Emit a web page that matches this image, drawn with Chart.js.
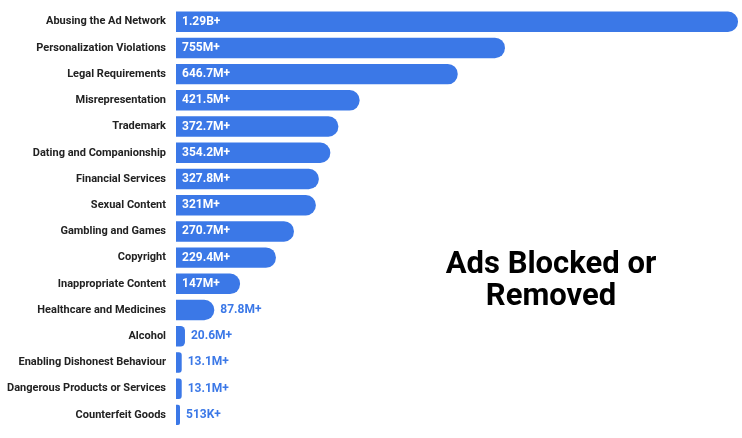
<!DOCTYPE html>
<html><head><meta charset="utf-8">
<script src="https://cdn.jsdelivr.net/npm/chart.js@4"></script>
<style>
body{margin:0;background:#fff;}
#wrap{position:relative;width:742px;height:438px;}
#title{position:absolute;left:401px;top:247px;width:300px;text-align:center;font:bold 31px Roboto,sans-serif;line-height:32px;color:#000;}
</style></head><body>
<div id="wrap"><canvas id="c" width="742" height="438"></canvas>
<div id="title">Ads Blocked or<br>Removed</div></div>
<script>
const categorias = ['Abusing the Ad Network','Personalization Violations','Legal Requirements','Misrepresentation','Trademark','Dating and Companionship','Financial Services','Sexual Content','Gambling and Games','Copyright','Inappropriate Content','Healthcare and Medicines','Alcohol','Enabling Dishonest Behaviour','Dangerous Products or Services','Counterfeit Goods'];
const valores = [1290, 755, 646.7, 421.5, 372.7, 354.2, 327.8, 321, 270.7, 229.4, 147, 87.8, 20.6, 13.1, 13.1, 0.513];
const etiquetas = ['1.29B+','755M+','646.7M+','421.5M+','372.7M+','354.2M+','327.8M+','321M+','270.7M+','229.4M+','147M+','87.8M+','20.6M+','13.1M+','13.1M+','513K+'];

const azul = '#3b78e7';

const valoresPlugin = {
  id: 'valores',
  afterDatasetsDraw(chart) {
    const ctx = chart.ctx;
    const meta = chart.getDatasetMeta(0);
    ctx.save();
    ctx.font = 'bold 12px Roboto, sans-serif';
    ctx.textBaseline = 'middle';
    meta.data.forEach((bar, i) => {
      const w = bar.x - bar.base;
      if (w > 60) {
        ctx.fillStyle = '#fff';
        ctx.fillText(etiquetas[i], bar.base + 6, bar.y);
      } else {
        ctx.fillStyle = azul;
        ctx.fillText(etiquetas[i], bar.x + 6, bar.y);
      }
    });
    ctx.restore();
  }
};

new Chart(document.getElementById('c'), {
  type: 'bar',
  data: {
    labels: categorias,
    datasets: [{
      data: valores,
      backgroundColor: azul,
      borderRadius: {topRight: 10, bottomRight: 10},
      borderSkipped: false,
      barPercentage: 0.78,
      categoryPercentage: 1,
      minBarLength: 4
    }]
  },
  options: {
    indexAxis: 'y',
    responsive: false,
    animation: false,
    layout: {padding: {top: -5, bottom: 10, right: 4, left: 0}},
    plugins: {legend: {display: false}, tooltip: {enabled: false}},
    scales: {
      x: {display: false, min: 0, max: 1290},
      y: {
        grid: {display: false},
        border: {display: false},
        afterFit(s) { s.width = 176; },
        ticks: {color: '#222', font: {family: 'Roboto', weight: 'bold', size: 11}, padding: 2}
      }
    }
  },
  plugins: [valoresPlugin]
});
</script></body></html>
